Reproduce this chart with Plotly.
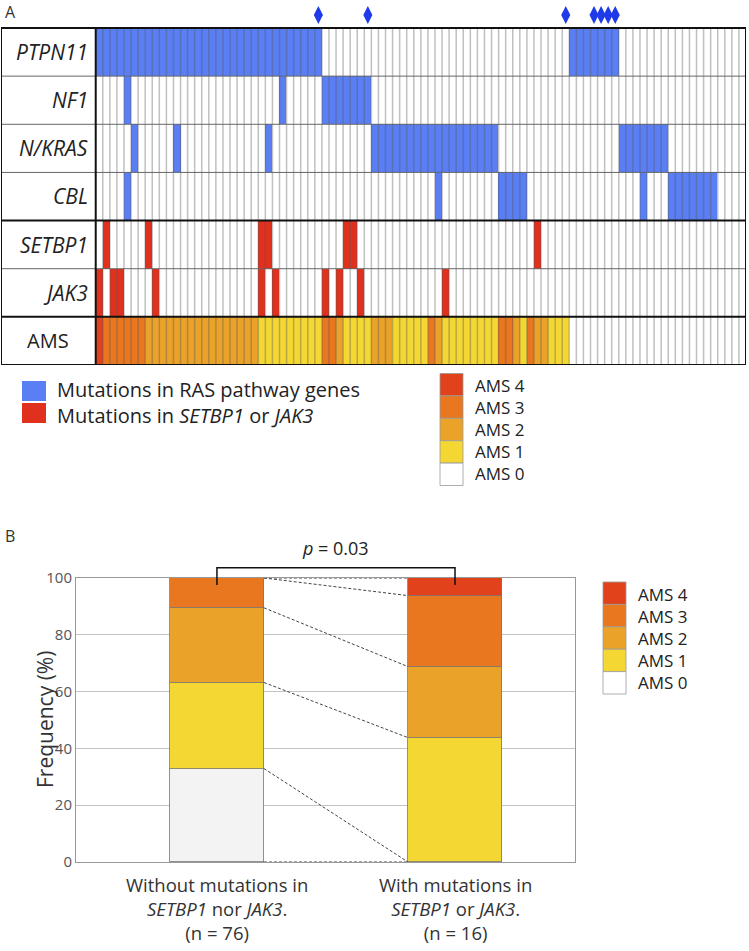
import plotly.graph_objects as go

W, H = 749, 951

# ---------------- Panel A data (patients = columns, 1-based) ----------------
n_patients = 92
row_labels = ["<i>PTPN11</i>", "<i>NF1</i>", "<i>N/KRAS</i>", "<i>CBL</i>",
              "<i>SETBP1</i>", "<i>JAK3</i>", "AMS"]

ptpn11_mut = [1, 2, 3, 4, 5, 6, 7, 8, 9, 10, 11, 12, 13, 14, 15, 16, 17, 18, 19, 20,
              21, 22, 23, 24, 25, 26, 27, 28, 29, 30, 31, 32,
              68, 69, 70, 71, 72, 73, 74]
nf1_mut = [5, 27, 33, 34, 35, 36, 37, 38, 39]
nkras_mut = [6, 12, 25, 40, 41, 42, 43, 44, 45, 46, 47, 48, 49, 50, 51, 52, 53, 54,
             55, 56, 57, 75, 76, 77, 78, 79, 80, 81]
cbl_mut = [5, 49, 58, 59, 60, 61, 78, 82, 83, 84, 85, 86, 87, 88]
setbp1_mut = [2, 8, 24, 25, 36, 37, 63]
jak3_mut = [1, 3, 4, 9, 24, 26, 33, 35, 38, 50]
ams_score = [4, 3, 3, 3, 3, 3, 3,
             2, 2, 2, 2, 2, 2, 2, 2, 2, 2, 2, 2, 2, 2, 2, 2,
             1, 1, 1, 1, 1, 1, 1, 1, 1,
             3, 3, 2,
             1, 1, 1, 1,
             2, 2, 2,
             1, 1, 1, 1, 1,
             3, 2,
             1, 1, 1, 1, 1, 1, 1, 1,
             3, 3, 2, 1, 3, 2, 2, 1, 1, 1,
             0, 0, 0, 0, 0, 0, 0, 0, 0, 0, 0, 0, 0, 0, 0, 0, 0, 0, 0, 0, 0, 0, 0, 0, 0]
diamond_cols = [32, 39, 67, 71, 72, 73, 74]
mut_legend_labels = ["Mutations in RAS pathway genes",
                     "Mutations in <i>SETBP1</i> or <i>JAK3</i>"]

# ---------------- Panel B data ----------------
group_x = [0, 1]
group_labels = ["Without mutations in<br><i>SETBP1</i> nor <i>JAK3</i>.<br>(n = 76)",
                "With mutations in<br><i>SETBP1</i> or <i>JAK3</i>.<br>(n = 16)"]
ams_levels = ["AMS 0", "AMS 1", "AMS 2", "AMS 3", "AMS 4"]
without_pct = [32.9, 30.3, 26.3, 10.5, 0.0]
with_pct = [0.0, 43.8, 25.0, 25.0, 6.2]
y_ticks = [0, 20, 40, 60, 80, 100]
p_text = "<i>p</i> = 0.03"

# ---------------- styles ----------------
BLUE = "#5a7ef4"
RED = "#e0301e"
AMS_COL = {0: "#ffffff", 1: "#f4d733", 2: "#eba229", 3: "#e8771f", 4: "#e2421b"}
BAR_AMS0 = "#f3f3f3"
FONT = "Open Sans"
TXT = "#222"


def px(x):
    return x / W


def py(y):
    return 1 - y / H


def ann(**kw):
    d = dict(showarrow=False, xanchor="center", yanchor="middle")
    d.update(kw)
    return d


# build heatmap codes
mut_rows = [ptpn11_mut, nf1_mut, nkras_mut, cbl_mut, setbp1_mut, jak3_mut]
z = []
for r, cols in enumerate(mut_rows):
    code = 1 if r < 4 else 2
    z.append([code if (c + 1) in cols else 0 for c in range(n_patients)])
z.append([(2 + a) if a > 0 else 0 for a in ams_score])

codes_colors = ["#ffffff", BLUE, RED, AMS_COL[1], AMS_COL[2], AMS_COL[3], AMS_COL[4]]
ncode = len(codes_colors)
cscale = []
for k, c in enumerate(codes_colors):
    cscale.append([k / ncode, c])
    cscale.append([(k + 1) / ncode, c])

nrows = len(row_labels)
row_px = (365 - 28) / nrows      # pixel height of one row
top_extra = 0.5                  # extra space (rows) above the grid for the diamonds

fig = go.Figure()
fig.add_trace(go.Heatmap(
    z=z,
    x=[i + 0.5 for i in range(n_patients)],
    y=[r + 0.5 for r in range(nrows)],
    colorscale=cscale, zmin=-0.5, zmax=ncode - 0.5,
    showscale=False, hoverinfo="skip", xaxis="x", yaxis="y"))

fig.add_trace(go.Scatter(
    x=[c - 0.5 for c in diamond_cols], y=[-0.27] * len(diamond_cols),
    mode="markers", marker=dict(symbol="diamond-tall", size=13, color="#1f3ae8"),
    cliponaxis=False, showlegend=False, hoverinfo="skip", xaxis="x", yaxis="y"))

L = 13.4  # label column width in column units
shapes = []
for i in range(1, n_patients):
    shapes.append(dict(type="line", xref="x", yref="y", x0=i, x1=i, y0=0, y1=nrows,
                       line=dict(color="rgba(90,90,90,0.38)", width=1.5), layer="above"))
for r in range(1, nrows):
    thick = r in (4, 6)
    shapes.append(dict(type="line", xref="x", yref="y", x0=-L, x1=n_patients, y0=r, y1=r,
                       line=dict(color="#111" if thick else "#666", width=2 if thick else 1),
                       layer="above"))
shapes.append(dict(type="line", xref="x", yref="y", x0=0, x1=0, y0=0, y1=nrows,
                   line=dict(color="#111", width=2), layer="above"))
shapes.append(dict(type="rect", xref="x", yref="y", x0=-L, x1=n_patients, y0=0, y1=nrows,
                   line=dict(color="#111", width=2), layer="above"))

annotations = []
for r, lab in enumerate(row_labels):
    if r < nrows - 1:
        annotations.append(ann(x=-0.75, y=r + 0.5, xref="x", yref="y", text=lab, xanchor="right",
                               font=dict(size=21, color=TXT, family=FONT)))
    else:
        annotations.append(ann(x=-L / 2, y=r + 0.5, xref="x", yref="y", text=lab,
                               font=dict(size=20, color=TXT, family=FONT)))

# panel labels
annotations.append(ann(x=px(3), y=py(12), xref="paper", yref="paper", text="A", xanchor="left",
                       font=dict(size=16, color="#333", family=FONT)))
annotations.append(ann(x=px(3), y=py(536), xref="paper", yref="paper", text="B", xanchor="left",
                       font=dict(size=16, color="#333", family=FONT)))

# Legend A (mutations)
for col, y0 in zip([BLUE, RED], [381, 403]):
    shapes.append(dict(type="rect", xref="paper", yref="paper", x0=px(22), x1=px(46),
                       y0=py(y0), y1=py(y0 + 20), fillcolor=col, line=dict(width=0)))
annotations.append(ann(x=px(55), y=py(402), xref="paper", yref="paper",
                       text="<br>".join(mut_legend_labels), xanchor="left", align="left",
                       font=dict(size=20, color=TXT, family=FONT)))


def ams_legend(x0, ytop, step=22.4):
    order = [4, 3, 2, 1, 0]
    for k, lev in enumerate(order):
        y0 = ytop + k * step
        shapes.append(dict(type="rect", xref="paper", yref="paper", x0=px(x0), x1=px(x0 + 23),
                           y0=py(y0), y1=py(y0 + step), fillcolor=AMS_COL[lev],
                           line=dict(color="#999", width=0.8)))
    annotations.append(ann(x=px(x0 + 33), y=py(ytop + step * len(order) / 2), xref="paper",
                           yref="paper", text="<br>".join(ams_levels[lev] for lev in order),
                           xanchor="left", align="left",
                           font=dict(size=17, color=TXT, family=FONT)))


ams_legend(440, 373.5)
ams_legend(603, 582)

# ---------------- Panel B ----------------
bw = 0.395
for lev in range(5):
    color = BAR_AMS0 if lev == 0 else AMS_COL[lev]
    fig.add_trace(go.Bar(
        x=group_x, y=[without_pct[lev], with_pct[lev]], width=bw,
        marker=dict(color=color, line=dict(color="#777", width=0.8)),
        showlegend=False, hoverinfo="skip", xaxis="x2", yaxis="y2"))

cum_wo, cum_w = [0.0], [0.0]
for lev in range(5):
    cum_wo.append(cum_wo[-1] + without_pct[lev])
    cum_w.append(cum_w[-1] + with_pct[lev])
for a, b in zip(cum_wo, cum_w):
    fig.add_trace(go.Scatter(
        x=[group_x[0] + bw / 2, group_x[1] - bw / 2], y=[min(a, 100), min(b, 100)], mode="lines",
        line=dict(color="#444", width=1, dash="3px,2px"),
        showlegend=False, hoverinfo="skip", xaxis="x2", yaxis="y2"))

# significance bracket (y in fraction of the y2 domain)
shapes.append(dict(type="path", xref="x2", yref="y2 domain",
                   path=f"M {group_x[0]},0.975 L {group_x[0]},1.036 L {group_x[1]},1.036 L {group_x[1]},0.975",
                   line=dict(color="#111", width=1.5), layer="above"))
annotations.append(ann(x=0.5, y=1.107, xref="x2", yref="y2 domain", text=p_text,
                       font=dict(size=18, color=TXT, family=FONT)))

# group labels under the bars
for gx, lab in zip(group_x, group_labels):
    annotations.append(ann(x=gx, y=py(870), xref="x2", yref="paper", text=lab, yanchor="top",
                           font=dict(size=18.5, color="#333", family=FONT)))

annotations.append(ann(x=px(45), y=py(720), xref="paper", yref="paper", text="Frequency (%)",
                       textangle=-90, font=dict(size=21, color="#333", family=FONT)))

fig.update_layout(
    width=W, height=H, margin=dict(l=0, r=0, t=0, b=0, pad=0, autoexpand=False),
    paper_bgcolor="white", plot_bgcolor="white",
    barmode="stack", bargap=0, showlegend=False,
    shapes=shapes, annotations=annotations,
    font=dict(family=FONT),
    xaxis=dict(domain=[px(1), px(746)], range=[-L, n_patients], visible=False,
               fixedrange=True, automargin=False),
    yaxis=dict(domain=[py(365), py(28 - top_extra * row_px)], range=[nrows, -top_extra],
               visible=False, fixedrange=True, automargin=False),
    xaxis2=dict(domain=[px(76), px(575)], range=[-0.592, 1.504], anchor="y2",
                showticklabels=False, showgrid=False, zeroline=False,
                showline=True, mirror=True, linecolor="#999", linewidth=1, ticks="",
                automargin=False),
    yaxis2=dict(domain=[py(862), py(578)], range=[0, 100], anchor="x2",
                tickvals=y_ticks, showgrid=True, gridcolor="#c4c4c4",
                zeroline=False, showline=True, mirror=True, linecolor="#999", linewidth=1,
                tickfont=dict(size=15, color="#555", family=FONT), ticks="",
                automargin=False),
)

fig.write_html("out.html", config={"displayModeBar": False},
               post_script="document.body.style.margin='0px';document.body.style.overflow='hidden';")
